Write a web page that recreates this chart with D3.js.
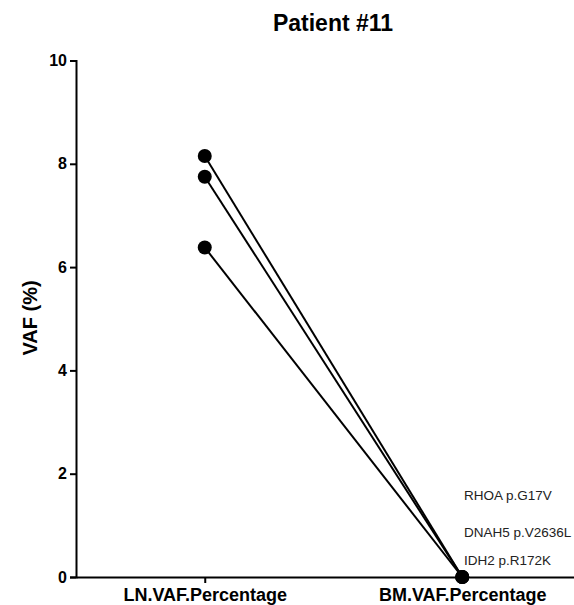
<!DOCTYPE html>
<html>
<head>
<meta charset="utf-8">
<script src="https://cdn.jsdelivr.net/npm/d3@7"></script>
<style>
body { margin: 0; background: #fff; }
svg { font-family: "Liberation Sans", Arial, sans-serif; }
.axis path, .axis line { stroke: #000; stroke-width: 2px; }
.axis text { font-weight: bold; font-size: 16px; fill: #000; }
</style>
</head>
<body>
<div id="canvas"></div>
<script>
// data
var samples = ["LN.VAF.Percentage", "BM.VAF.Percentage"];
var mutations = ["RHOA p.G17V", "DNAH5 p.V2636L", "IDH2 p.R172K"];
var lnValues = [8.15, 7.75, 6.38];
var bmValues = [0, 0, 0];
var yTicks = [0, 2, 4, 6, 8, 10];

var width = 574, height = 605;
var margin = {top: 60.5, left: 76, bottom: 28};

var svg = d3.select("#canvas").append("svg")
	.attr("width", width)
	.attr("height", height);

// x runs past the right edge, like the original
var x = d3.scalePoint()
	.domain(samples)
	.range([margin.left, 591])
	.padding(0.5);

var y = d3.scaleLinear()
	.domain([0, 10])
	.range([height - margin.bottom, margin.top]);

// axes
svg.append("g")
	.attr("class", "axis")
	.attr("transform", "translate(" + margin.left + ",0)")
	.call(d3.axisLeft(y).tickValues(yTicks).tickSize(6).tickSizeOuter(6).tickPadding(3));

var xAxis = svg.append("g")
	.attr("class", "axis")
	.attr("transform", "translate(0," + y(0) + ")")
	.call(d3.axisBottom(x).tickSize(6).tickSizeOuter(0).tickPadding(5));
xAxis.selectAll("text").style("font-size", "18px");

// one line per mutation
var series = mutations.map(function(m, i) {
	return {name: m, values: [lnValues[i], bmValues[i]]};
});

var line = d3.line()
	.x(function(d, i) { return x(samples[i]); })
	.y(function(d) { return y(d); });

svg.selectAll(".series")
	.data(series)
	.enter().append("path")
	.attr("class", "series")
	.attr("d", function(d) { return line(d.values); })
	.attr("fill", "none")
	.attr("stroke", "#000")
	.attr("stroke-width", 2);

series.forEach(function(s) {
	svg.selectAll(null)
		.data(s.values)
		.enter().append("circle")
		.attr("cx", function(d, i) { return x(samples[i]); })
		.attr("cy", function(d) { return y(d); })
		.attr("r", 7)
		.attr("fill", "#000");
});

// mutation labels
var labelY = [495, 532, 560];
svg.selectAll(".mut")
	.data(mutations)
	.enter().append("text")
	.attr("class", "mut")
	.attr("x", 464)
	.attr("y", function(d, i) { return labelY[i]; })
	.attr("dy", "0.35em")
	.style("font-size", "13.5px")
	.style("fill", "#222")
	.text(function(d) { return d; });

// title
svg.append("text")
	.attr("x", 333)
	.attr("y", 31)
	.attr("text-anchor", "middle")
	.style("font-weight", "bold")
	.style("font-size", "23px")
	.text("Patient #11");

// y axis title
svg.append("text")
	.attr("transform", "translate(37,318) rotate(-90)")
	.attr("text-anchor", "middle")
	.style("font-weight", "bold")
	.style("font-size", "20px")
	.text("VAF (%)");
</script>
</body>
</html>
